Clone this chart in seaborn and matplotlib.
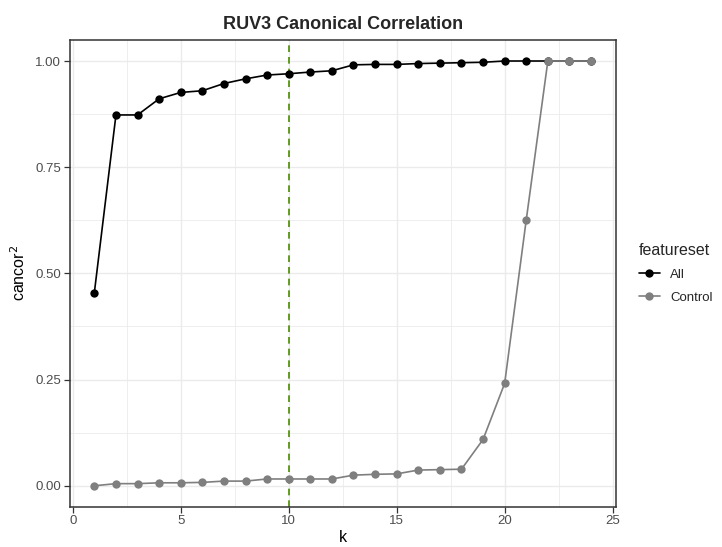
import numpy as np
import pandas as pd
import matplotlib
matplotlib.use("Agg")
import matplotlib.pyplot as plt
import seaborn as sns
from matplotlib.ticker import MultipleLocator, FormatStrFormatter

k_values = list(range(1, 25))
all_values = [0.455, 0.873, 0.873, 0.911, 0.926, 0.930, 0.947, 0.958, 0.967, 0.970,
              0.974, 0.977, 0.991, 0.992, 0.992, 0.994, 0.995, 0.996, 0.997, 1.000,
              1.000, 1.000, 1.000, 1.000]
control_values = [0.000, 0.005, 0.005, 0.007, 0.007, 0.008, 0.011, 0.011, 0.016, 0.016,
                  0.016, 0.016, 0.025, 0.027, 0.028, 0.037, 0.038, 0.039, 0.109, 0.241,
                  0.626, 1.000, 1.000, 1.000]
series_names = ["All", "Control"]
chosen_k = 10

df = pd.DataFrame({
    "k": k_values * 2,
    "cancor": all_values + control_values,
    "featureset": [series_names[0]] * len(k_values) + [series_names[1]] * len(k_values),
})

sns.set_theme(style="white")
plt.rcParams["font.family"] = ["Liberation Sans", "DejaVu Sans"]

fig = plt.figure(figsize=(7.22, 5.47), dpi=100)
ax = fig.add_axes([0.0963, 0.0731, 0.7567, 0.8542])

palette = {"All": "black", "Control": "#7f7f7f"}
sns.lineplot(data=df, x="k", y="cancor", hue="featureset", palette=palette,
             marker="o", markersize=6, markeredgewidth=0, linewidth=1.2,
             ax=ax, legend=True)

ax.axvline(chosen_k, color="#4a8c00", linestyle=(0, (4, 3)), linewidth=1.2, zorder=1)

ax.set_xlim(1 - 0.05 * 23, 24 + 0.05 * 23)
ax.set_ylim(-0.05, 1.05)
ax.xaxis.set_major_locator(MultipleLocator(5))
ax.xaxis.set_minor_locator(MultipleLocator(2.5))
ax.yaxis.set_major_locator(MultipleLocator(0.25))
ax.yaxis.set_minor_locator(MultipleLocator(0.125))
ax.yaxis.set_major_formatter(FormatStrFormatter("%.2f"))

ax.grid(True, which="major", color="#ebebeb", linewidth=1.0, zorder=0)
ax.grid(True, which="minor", color="#ebebeb", linewidth=0.6, zorder=0)
ax.set_axisbelow(True)
for sp in ax.spines.values():
    sp.set_color("#333333")
    sp.set_linewidth(1.1)

ax.tick_params(axis="both", which="major", direction="out", length=4, width=0.9,
               color="#333333", labelcolor="#4d4d4d", labelsize=9.5, pad=2,
               bottom=True, left=True)
ax.tick_params(axis="both", which="minor", length=0)

ax.set_xlabel("k", fontsize=11.5, color="black", labelpad=2)
ax.set_ylabel("cancor$^{2}$", fontsize=11.5, color="black", labelpad=5)
ax.set_title("RUV3 Canonical Correlation", fontsize=13, fontweight="bold", pad=8)

handles, labels = ax.get_legend_handles_labels()
leg = ax.legend(handles, labels, title="featureset", loc="center left",
                bbox_to_anchor=(1.025, 0.5), frameon=False, fontsize=9.5,
                title_fontsize=11.5, handlelength=1.6, borderaxespad=0.3,
                labelspacing=0.8)
leg._legend_box.align = "left"

fig.savefig("out.png", dpi=100)
